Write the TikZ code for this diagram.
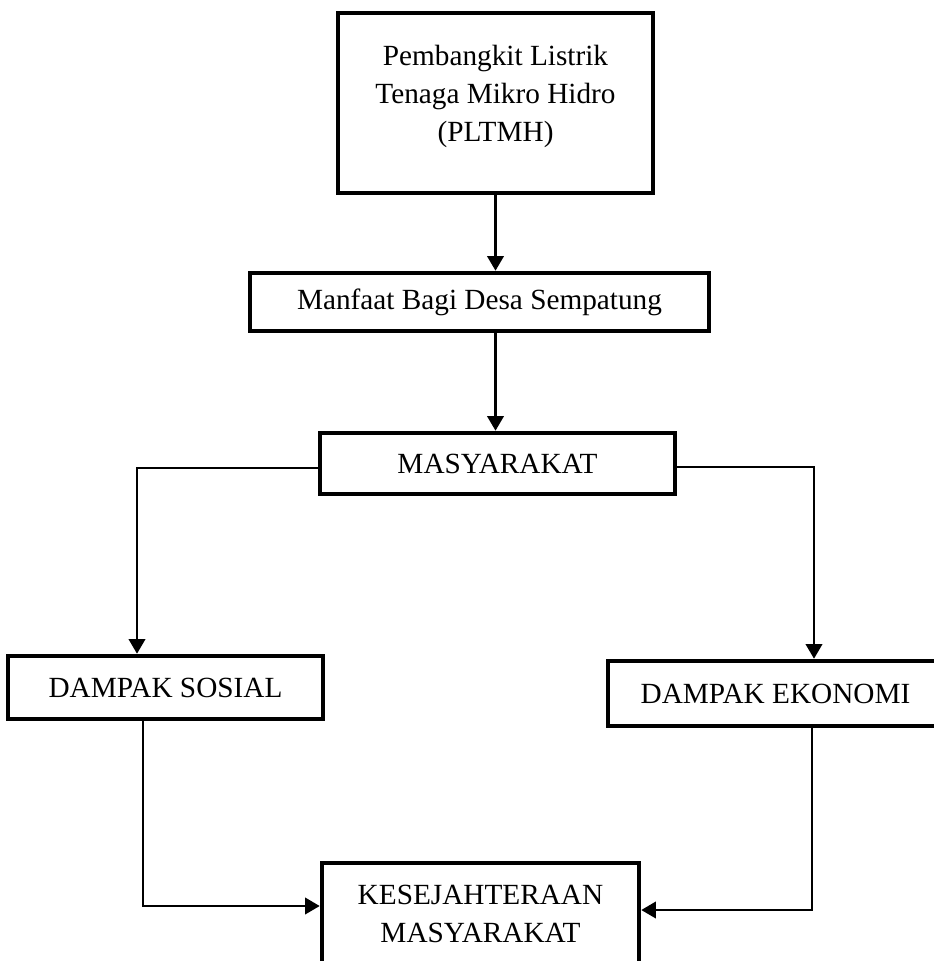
\documentclass[tikz,border=0pt]{standalone}
\usepackage{fontspec}
\setmainfont{Liberation Serif}
\usetikzlibrary{arrows.meta}

\tikzset{
  kotak/.style={draw, line width=1.9pt, align=center, inner sep=0pt,
    font=\fontsize{12}{15.6}\selectfont},
  panah/.style={line width=0.85pt, -{Triangle[length=6pt,width=6.8pt]}}
}

\begin{document}
\begin{tikzpicture}[x=0.41pt,y=-0.41pt]

  \useasboundingbox (0,0) rectangle (934,961);

  % Nodes

  \node[kotak, minimum width=315*0.41pt, minimum height=180*0.41pt] (pltmh) at (495.5,103) {Pembangkit Listrik\\Tenaga Mikro Hidro\\(PLTMH)\\[-8pt]\mbox{}} ; %
  \node[kotak, minimum width=459*0.41pt, minimum height=58*0.41pt] (manfaat) at (479.5,302) {Manfaat Bagi Desa Sempatung} ; %
  \node[kotak, minimum width=355*0.41pt, minimum height=61*0.41pt] (masyarakat) at (497.5,463.5) {MASYARAKAT} ; %

  \node[kotak, minimum width=315*0.41pt, minimum height=63*0.41pt] (sosial) at (165.5,687.5) {DAMPAK SOSIAL} ; %
  \node[kotak, minimum width=335*0.41pt, minimum height=65*0.41pt] (ekonomi) at (775.5,693.5) {DAMPAK EKONOMI} ; %

  \node[kotak, minimum width=317*0.41pt, minimum height=102*0.41pt] (kesejahteraan) at (480.5,914) {KESEJAHTERAAN\\MASYARAKAT} ; %

  % Corners
  \coordinate (kiri) at (137,468) ; %
  \coordinate (kanan) at (814,467) ; %
  \coordinate (bawahkiri) at (143,906) ; %
  \coordinate (bawahkanan) at (812,910) ; %

  % Edges
  \draw[panah] (pltmh.south) -- (pltmh.south |- manfaat.north) ;
  \draw[panah] (manfaat.south -| pltmh.south) -- (masyarakat.north -| pltmh.south) ;

  \draw[panah] (masyarakat.west |- kiri) -- (kiri) -- (kiri |- sosial.north) ;
  \draw[panah] (masyarakat.east |- kanan) -- (kanan) -- (kanan |- ekonomi.north) ;

  \draw[panah] (bawahkiri |- sosial.south) -- (bawahkiri) -- (kesejahteraan.west |- bawahkiri) ;
  \draw[panah] (bawahkanan |- ekonomi.south) -- (bawahkanan) -- (kesejahteraan.east |- bawahkanan) ;

\end{tikzpicture}
\end{document}
